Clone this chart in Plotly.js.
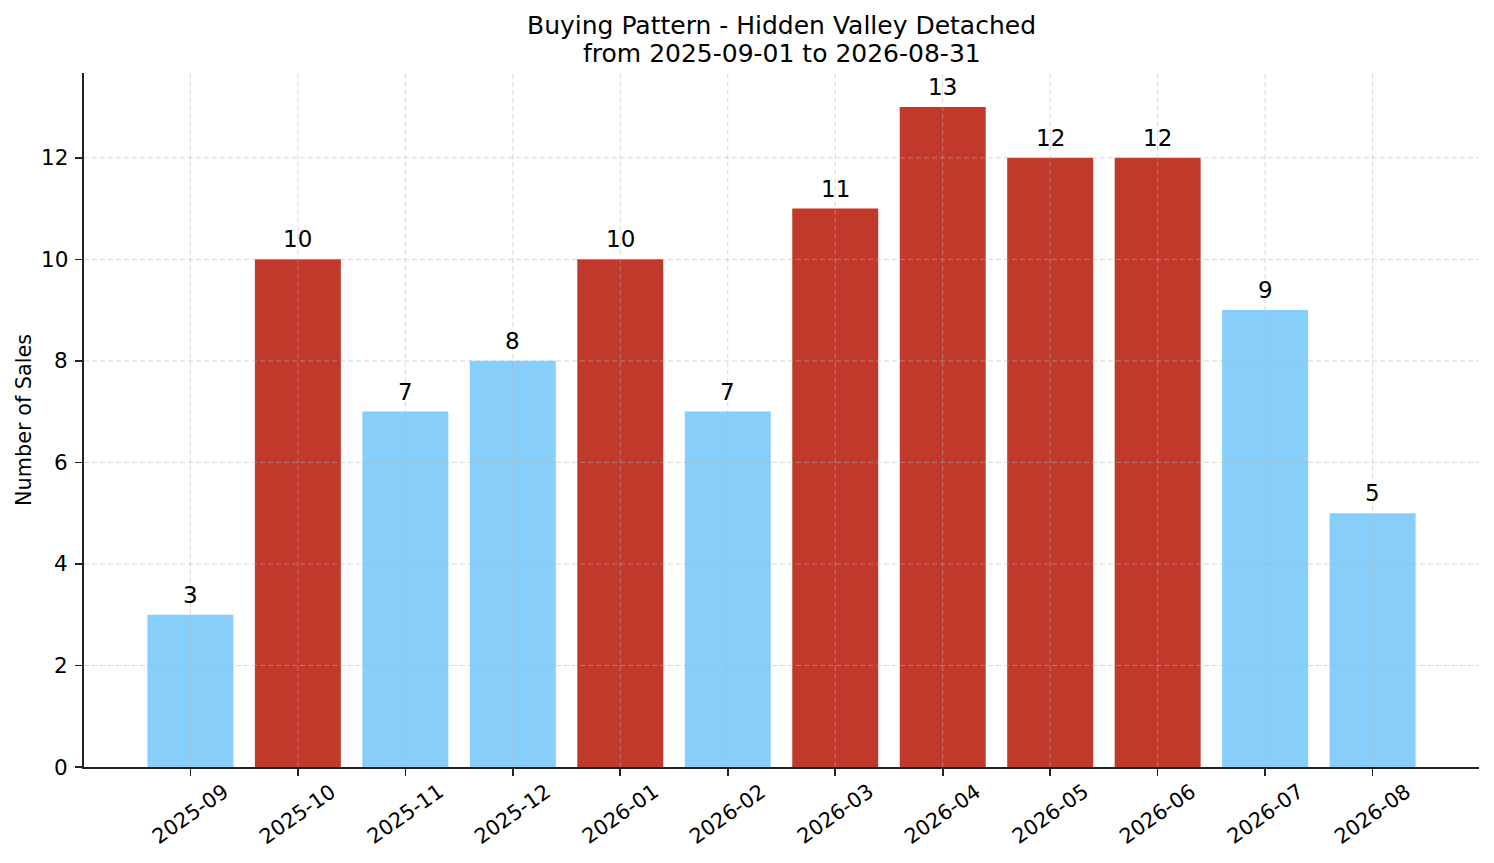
<!DOCTYPE html>
<html>
<head>
<meta charset="utf-8">
<script src="https://cdn.plot.ly/plotly-3.0.1.min.js"></script>
<style>
  html, body { margin: 0; padding: 0; background: #fff; }
  #chart { width: 1494px; height: 863px; }
</style>
</head>
<body>
<div id="chart"></div>
<script>
let months = ['2025-09', '2025-10', '2025-11', '2025-12', '2026-01', '2026-02',
              '2026-03', '2026-04', '2026-05', '2026-06', '2026-07', '2026-08']
let sales = [3, 10, 7, 8, 10, 7, 11, 13, 12, 12, 9, 5]
let yTicks = [0, 2, 4, 6, 8, 10, 12]
let titleText = 'Buying Pattern - Hidden Valley Detached'
let subText = 'from 2025-09-01 to 2026-08-31'
let yLabel = 'Number of Sales'

// busy months (10 or more sales) get the red colour
let barColors = sales.map(function (v) { return v >= 10 ? '#c0392b' : '#87cefa' })
let xPos = months.map(function (m, i) { return i })

let trace = {
    x: xPos,
    y: sales,
    type: 'bar',
    width: 0.8,
    marker: { color: barColors },
    hoverinfo: 'x+y'
}

let gridLine = { color: 'rgba(180,180,180,0.65)', width: 0.8, dash: '5px,3px' }

// dashed grid drawn over the bars, as in the original
let gridShapes = []
xPos.forEach(function (i) {
    gridShapes.push({ type: 'line', xref: 'x', yref: 'paper', x0: i, x1: i, y0: 0, y1: 1, layer: 'above', line: gridLine })
})
yTicks.forEach(function (v) {
    if (v == 0) return
    gridShapes.push({ type: 'line', xref: 'paper', yref: 'y', x0: 0, x1: 1, y0: v, y1: v, layer: 'above', line: gridLine })
})

// value labels above bars
let notes = sales.map(function (v, i) {
    return { x: i, y: v, xref: 'x', yref: 'y', text: String(v), showarrow: false,
        xanchor: 'center', yanchor: 'bottom', yshift: 5,
        font: { family: 'DejaVu Sans', size: 23, color: '#000' } }
})
// month labels, rotated around their centre
months.forEach(function (m, i) {
    notes.push({ x: i, y: 0, xref: 'x', yref: 'paper', text: m, showarrow: false,
        xanchor: 'center', yanchor: 'middle', yshift: -47, textangle: -35,
        font: { family: 'DejaVu Sans', size: 20.8, color: '#000' } })
})
// y tick labels
yTicks.forEach(function (v) {
    notes.push({ x: 0, y: v, xref: 'paper', yref: 'y', text: String(v), showarrow: false,
        xanchor: 'right', yanchor: 'middle', xshift: -14,
        font: { family: 'DejaVu Sans', size: 21.5, color: '#000' } })
})
// y axis label
notes.push({ x: 0, y: 0.5, xref: 'paper', yref: 'paper', text: yLabel, showarrow: false,
    xanchor: 'center', yanchor: 'middle', xshift: -60, textangle: -90,
    font: { family: 'DejaVu Sans', size: 20.8, color: '#000' } })
// second title line
notes.push({ x: 0.5, y: 1, xref: 'paper', yref: 'paper', text: subText, showarrow: false,
    xanchor: 'center', yanchor: 'middle', yshift: 20,
    font: { family: 'DejaVu Sans', size: 25, color: '#000' } })

let layout = {
    width: 1494,
    height: 863,
    margin: { l: 84, r: 15, t: 73, b: 96 },
    paper_bgcolor: '#fff',
    plot_bgcolor: '#fff',
    font: { family: 'DejaVu Sans', size: 20, color: '#000' },
    title: {
        text: titleText,
        font: { family: 'DejaVu Sans', size: 25, color: '#000' },
        xref: 'paper', x: 0.5, xanchor: 'center',
        y: 1 - 25 / 863, yanchor: 'middle'
    },
    showlegend: false,
    xaxis: {
        range: [-0.99, 11.99],
        tickmode: 'array',
        tickvals: xPos,
        showticklabels: false,
        ticks: 'outside', ticklen: 7, tickwidth: 1.6, tickcolor: '#222',
        showgrid: false, zeroline: false,
        showline: true, linecolor: '#222', linewidth: 1.6
    },
    yaxis: {
        range: [0, 13.67],
        tickmode: 'array',
        tickvals: yTicks,
        showticklabels: false,
        ticks: 'outside', ticklen: 7, tickwidth: 1.6, tickcolor: '#222',
        showgrid: false, zeroline: false,
        showline: true, linecolor: '#222', linewidth: 1.6
    },
    shapes: gridShapes,
    annotations: notes
}

Plotly.newPlot('chart', [trace], layout, { displayModeBar: false, staticPlot: true })
</script>
</body>
</html>
